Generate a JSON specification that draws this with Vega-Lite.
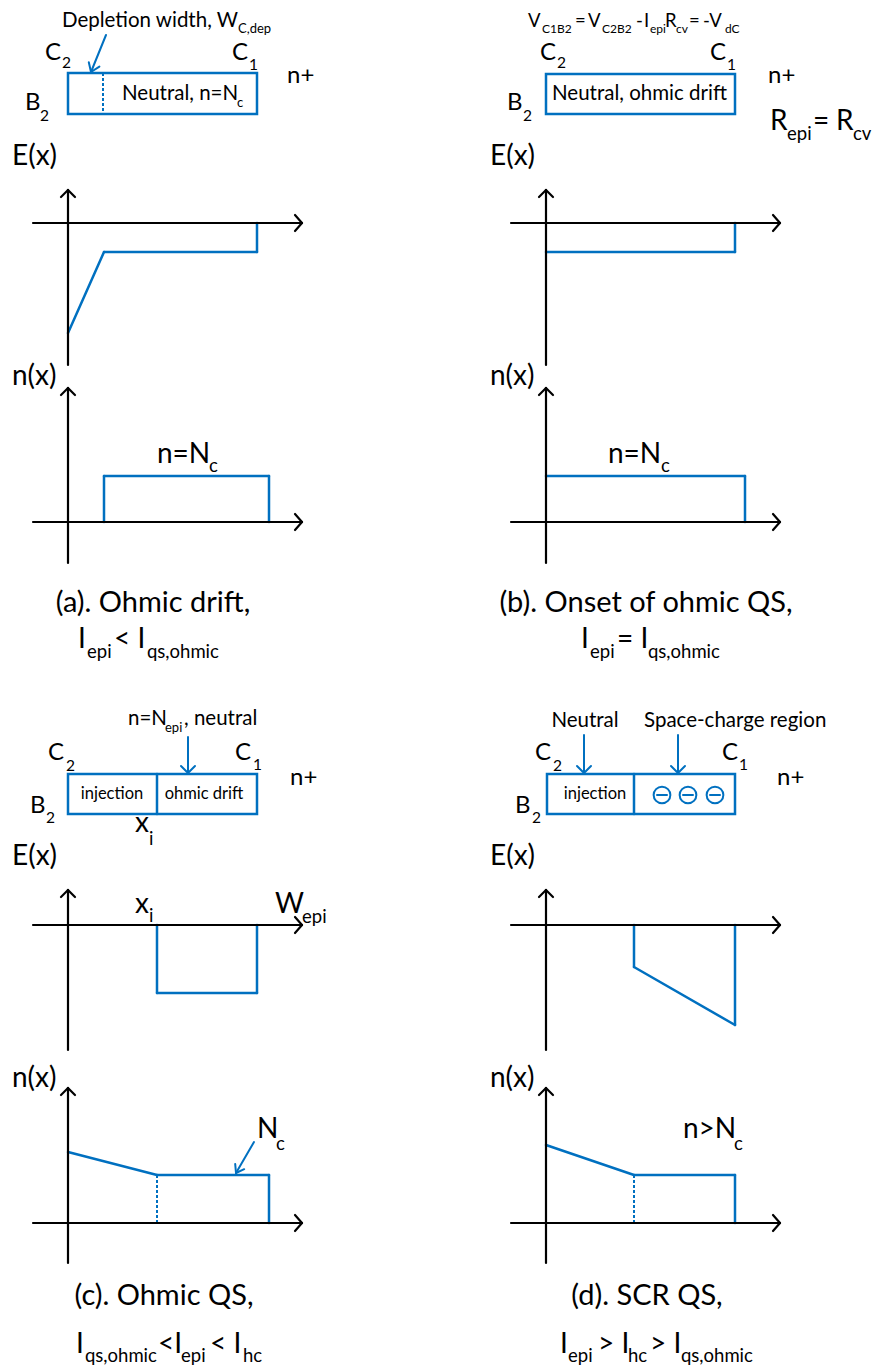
{
"$schema": "https://vega.github.io/schema/vega-lite/v6.json",
"width": 875, "height": 1369, "padding": 0,
"autosize": {"type": "fit", "contains": "padding"},
"background": "white",
"config": {"view": {"stroke": null}, "text": {"font": "Lato", "baseline": "alphabetic", "color": "#000000"}},
"datasets": {
"segs": [
{"x":68,"y":190,"x2":68,"y2":365,"k":"k"},{"x":61,"y":197,"x2":68,"y2":190,"k":"k"},{"x":75,"y":197,"x2":68,"y2":190,"k":"k"},
{"x":33,"y":223,"x2":302,"y2":223,"k":"k"},{"x":295,"y":215,"x2":302,"y2":223,"k":"k"},{"x":295,"y":231,"x2":302,"y2":223,"k":"k"},
{"x":68,"y":388,"x2":68,"y2":563,"k":"k"},{"x":61,"y":395,"x2":68,"y2":388,"k":"k"},{"x":75,"y":395,"x2":68,"y2":388,"k":"k"},
{"x":33,"y":522,"x2":302,"y2":522,"k":"k"},{"x":295,"y":514,"x2":302,"y2":522,"k":"k"},{"x":295,"y":530,"x2":302,"y2":522,"k":"k"},
{"x":546,"y":190,"x2":546,"y2":365,"k":"k"},{"x":539,"y":197,"x2":546,"y2":190,"k":"k"},{"x":553,"y":197,"x2":546,"y2":190,"k":"k"},
{"x":511,"y":223,"x2":780,"y2":223,"k":"k"},{"x":773,"y":215,"x2":780,"y2":223,"k":"k"},{"x":773,"y":231,"x2":780,"y2":223,"k":"k"},
{"x":546,"y":388,"x2":546,"y2":563,"k":"k"},{"x":539,"y":395,"x2":546,"y2":388,"k":"k"},{"x":553,"y":395,"x2":546,"y2":388,"k":"k"},
{"x":511,"y":522,"x2":780,"y2":522,"k":"k"},{"x":773,"y":514,"x2":780,"y2":522,"k":"k"},{"x":773,"y":530,"x2":780,"y2":522,"k":"k"},
{"x":68,"y":890,"x2":68,"y2":1050,"k":"k"},{"x":61,"y":897,"x2":68,"y2":890,"k":"k"},{"x":75,"y":897,"x2":68,"y2":890,"k":"k"},
{"x":33,"y":925,"x2":302,"y2":925,"k":"k"},{"x":295,"y":917,"x2":302,"y2":925,"k":"k"},{"x":295,"y":933,"x2":302,"y2":925,"k":"k"},
{"x":68,"y":1088,"x2":68,"y2":1263,"k":"k"},{"x":61,"y":1095,"x2":68,"y2":1088,"k":"k"},{"x":75,"y":1095,"x2":68,"y2":1088,"k":"k"},
{"x":33,"y":1223,"x2":302,"y2":1223,"k":"k"},{"x":295,"y":1215,"x2":302,"y2":1223,"k":"k"},{"x":295,"y":1231,"x2":302,"y2":1223,"k":"k"},
{"x":546,"y":890,"x2":546,"y2":1050,"k":"k"},{"x":539,"y":897,"x2":546,"y2":890,"k":"k"},{"x":553,"y":897,"x2":546,"y2":890,"k":"k"},
{"x":511,"y":925,"x2":780,"y2":925,"k":"k"},{"x":773,"y":917,"x2":780,"y2":925,"k":"k"},{"x":773,"y":933,"x2":780,"y2":925,"k":"k"},
{"x":546,"y":1088,"x2":546,"y2":1263,"k":"k"},{"x":539,"y":1095,"x2":546,"y2":1088,"k":"k"},{"x":553,"y":1095,"x2":546,"y2":1088,"k":"k"},
{"x":511,"y":1223,"x2":780,"y2":1223,"k":"k"},{"x":773,"y":1215,"x2":780,"y2":1223,"k":"k"},{"x":773,"y":1231,"x2":780,"y2":1223,"k":"k"},
{"x":68,"y":333,"x2":104,"y2":252,"k":"b"},{"x":104,"y":252,"x2":257,"y2":252,"k":"b"},{"x":257,"y":252,"x2":257,"y2":223,"k":"b"},
{"x":104,"y":522,"x2":104,"y2":476,"k":"b"},{"x":104,"y":476,"x2":269,"y2":476,"k":"b"},{"x":269,"y":476,"x2":269,"y2":522,"k":"b"},
{"x":546,"y":252,"x2":735,"y2":252,"k":"b"},{"x":735,"y":252,"x2":735,"y2":223,"k":"b"},
{"x":546,"y":476,"x2":745,"y2":476,"k":"b"},{"x":745,"y":476,"x2":745,"y2":522,"k":"b"},
{"x":157,"y":925,"x2":157,"y2":993,"k":"b"},{"x":157,"y":993,"x2":257,"y2":993,"k":"b"},{"x":257,"y":993,"x2":257,"y2":925,"k":"b"},
{"x":68,"y":1152,"x2":157,"y2":1175,"k":"b"},{"x":157,"y":1175,"x2":269,"y2":1175,"k":"b"},{"x":269,"y":1175,"x2":269,"y2":1223,"k":"b"},
{"x":634,"y":925,"x2":634,"y2":967,"k":"b"},{"x":634,"y":967,"x2":735,"y2":1025,"k":"b"},{"x":735,"y":1025,"x2":735,"y2":925,"k":"b"},
{"x":546,"y":1145,"x2":634,"y2":1175,"k":"b"},{"x":634,"y":1175,"x2":735,"y2":1175,"k":"b"},{"x":735,"y":1175,"x2":735,"y2":1223,"k":"b"},
{"x":157,"y":774,"x2":157,"y2":814,"k":"b"},{"x":634,"y":774,"x2":634,"y2":814,"k":"b"},
{"x":106,"y":35,"x2":91,"y2":72,"k":"a"},{"x":99.4,"y":66.6,"x2":91,"y2":72,"k":"a"},{"x":88.8,"y":62.3,"x2":91,"y2":72,"k":"a"},
{"x":188,"y":737,"x2":188,"y2":773,"k":"a"},{"x":181,"y":766,"x2":188,"y2":773,"k":"a"},{"x":195,"y":766,"x2":188,"y2":773,"k":"a"},
{"x":254,"y":1142,"x2":236,"y2":1173,"k":"a"},{"x":244.2,"y":1169.2,"x2":236,"y2":1173,"k":"a"},{"x":235.2,"y":1164,"x2":236,"y2":1173,"k":"a"},
{"x":584,"y":735,"x2":584,"y2":773,"k":"a"},{"x":577,"y":766,"x2":584,"y2":773,"k":"a"},{"x":591,"y":766,"x2":584,"y2":773,"k":"a"},
{"x":678,"y":735,"x2":678,"y2":773,"k":"a"},{"x":671,"y":766,"x2":678,"y2":773,"k":"a"},{"x":685,"y":766,"x2":678,"y2":773,"k":"a"},
{"x":657,"y":795,"x2":667,"y2":795,"k":"a"},{"x":683,"y":795,"x2":693,"y2":795,"k":"a"},{"x":710,"y":795,"x2":720,"y2":795,"k":"a"},
{"x":103,"y":73,"x2":103,"y2":114,"k":"d"},{"x":157,"y":1175,"x2":157,"y2":1223,"k":"d"},{"x":634,"y":1175,"x2":634,"y2":1223,"k":"d"}
],
"boxes": [
{"x":68,"y":73,"x2":257,"y2":114},{"x":546,"y":74,"x2":735,"y2":114},{"x":68,"y":774,"x2":257,"y2":814},{"x":547,"y":774,"x2":735,"y2":814}
],
"circ": [{"x":662,"y":795},{"x":688,"y":795},{"x":715,"y":795}],
"txt": [
{"t":"Depletion width, W","x":62,"y":27,"c":"M"},{"t":"C,dep","x":238,"y":33,"c":"sM"},
{"t":"C","x":45,"y":60,"c":"C"},{"t":"2","x":62,"y":68,"c":"sC"},
{"t":"C","x":232,"y":60,"c":"C"},{"t":"1","x":249,"y":70,"c":"sC"},
{"t":"n+","x":287,"y":83,"c":"C"},
{"t":"Neutral, n=N","x":122,"y":100,"c":"M"},{"t":"c","x":237,"y":107,"c":"sM"},
{"t":"B","x":25,"y":110,"c":"C"},{"t":"2","x":40,"y":121,"c":"sC"},
{"t":"E(x)","x":12,"y":165,"c":"L"},
{"t":"n(x)","x":12,"y":385,"c":"L"},
{"t":"n=N","x":157,"y":463,"c":"L"},{"t":"c","x":209,"y":472,"c":"sL"},
{"t":"(a). Ohmic drift,","x":153,"y":612,"c":"Lc"},
{"t":"I","x":78,"y":648,"c":"L"},{"t":"epi","x":87,"y":658,"c":"sL"},{"t":"< I","x":114,"y":648,"c":"L"},{"t":"qs,ohmic","x":147,"y":658,"c":"sL"},
{"t":"V","x":528,"y":27,"c":"E"},{"t":"C1B2","x":542,"y":33,"c":"sE"},{"t":"=","x":575,"y":27,"c":"E"},{"t":"V","x":588,"y":27,"c":"E"},{"t":"C2B2","x":602,"y":33,"c":"sE"},{"t":"-","x":636,"y":27,"c":"E"},{"t":"I","x":644,"y":27,"c":"E"},{"t":"epi","x":650,"y":33,"c":"sE"},{"t":"R","x":665,"y":27,"c":"E"},{"t":"cv","x":676,"y":33,"c":"sE"},{"t":"=","x":689,"y":27,"c":"E"},{"t":"-V","x":703,"y":27,"c":"E"},{"t":"dC","x":725,"y":33,"c":"sE"},
{"t":"C","x":540,"y":60,"c":"C"},{"t":"2","x":557,"y":68,"c":"sC"},
{"t":"C","x":710,"y":60,"c":"C"},{"t":"1","x":727,"y":70,"c":"sC"},
{"t":"n+","x":768,"y":83,"c":"C"},
{"t":"Neutral, ohmic drift","x":552,"y":100,"c":"M"},
{"t":"B","x":507,"y":110,"c":"C"},{"t":"2","x":523,"y":121,"c":"sC"},
{"t":"R","x":770,"y":130,"c":"L"},{"t":"epi","x":787,"y":140,"c":"sL"},{"t":"=","x":813,"y":130,"c":"L"},{"t":"R","x":836,"y":130,"c":"L"},{"t":"cv","x":853,"y":140,"c":"sL"},
{"t":"E(x)","x":490,"y":165,"c":"L"},
{"t":"n(x)","x":490,"y":385,"c":"L"},
{"t":"n=N","x":608,"y":463,"c":"L"},{"t":"c","x":661,"y":472,"c":"sL"},
{"t":"(b). Onset of ohmic QS,","x":646,"y":612,"c":"Lc"},
{"t":"I","x":581,"y":648,"c":"L"},{"t":"epi","x":590,"y":658,"c":"sL"},{"t":"= I","x":617,"y":648,"c":"L"},{"t":"qs,ohmic","x":648,"y":658,"c":"sL"},
{"t":"n=N","x":128,"y":725,"c":"M"},{"t":"epi","x":165,"y":732,"c":"sM"},{"t":", neutral","x":184,"y":725,"c":"M"},
{"t":"C","x":48,"y":760,"c":"C"},{"t":"2","x":66,"y":771,"c":"sC"},
{"t":"C","x":235,"y":760,"c":"C"},{"t":"1","x":253,"y":770,"c":"sC"},
{"t":"n+","x":290,"y":785,"c":"C"},
{"t":"injection","x":112,"y":799,"c":"S"},{"t":"ohmic drift","x":204,"y":799,"c":"S"},
{"t":"B","x":30,"y":813,"c":"C"},{"t":"2","x":46,"y":823,"c":"sC"},
{"t":"x","x":135,"y":832,"c":"L"},{"t":"i","x":149,"y":845,"c":"sL"},
{"t":"E(x)","x":12,"y":865,"c":"L"},
{"t":"x","x":135,"y":913,"c":"L"},{"t":"i","x":149,"y":922,"c":"sL"},
{"t":"W","x":275,"y":913,"c":"L"},{"t":"epi","x":302,"y":923,"c":"sL"},
{"t":"n(x)","x":12,"y":1087,"c":"L"},
{"t":"N","x":257,"y":1138,"c":"L"},{"t":"c","x":276,"y":1150,"c":"sL"},
{"t":"(c). Ohmic QS,","x":164,"y":1305,"c":"Lc"},
{"t":"I","x":76,"y":1353,"c":"L"},{"t":"qs,ohmic","x":85,"y":1362,"c":"sL"},{"t":"<I","x":158,"y":1353,"c":"L"},{"t":"epi","x":181,"y":1362,"c":"sL"},{"t":"< I","x":210,"y":1353,"c":"L"},{"t":"hc","x":243,"y":1362,"c":"sL"},
{"t":"Neutral","x":585,"y":727,"c":"Mc"},{"t":"Space-charge region","x":644,"y":727,"c":"M"},
{"t":"C","x":535,"y":760,"c":"C"},{"t":"2","x":553,"y":771,"c":"sC"},
{"t":"C","x":722,"y":760,"c":"C"},{"t":"1","x":739,"y":770,"c":"sC"},
{"t":"n+","x":777,"y":785,"c":"C"},
{"t":"injection","x":595,"y":799,"c":"S"},
{"t":"B","x":515,"y":813,"c":"C"},{"t":"2","x":532,"y":823,"c":"sC"},
{"t":"E(x)","x":490,"y":865,"c":"L"},
{"t":"n(x)","x":490,"y":1087,"c":"L"},
{"t":"n>N","x":683,"y":1138,"c":"L"},{"t":"c","x":734,"y":1150,"c":"sL"},
{"t":"(d). SCR QS,","x":647,"y":1305,"c":"Lc"},
{"t":"I","x":560,"y":1353,"c":"L"},{"t":"epi","x":568,"y":1362,"c":"sL"},{"t":"> I","x":598,"y":1353,"c":"L"},{"t":"hc","x":628,"y":1362,"c":"sL"},{"t":"> I","x":650,"y":1353,"c":"L"},{"t":"qs,ohmic","x":681,"y":1362,"c":"sL"}
]
},
"encoding": {
"x": {"field": "x", "type": "quantitative", "scale": {"domain": [0, 875], "nice": false, "zero": false}, "axis": null},
"y": {"field": "y", "type": "quantitative", "scale": {"domain": [0, 1369], "nice": false, "zero": false, "reverse": true}, "axis": null}
},
"layer": [
{"data": {"name": "segs"}, "transform": [{"filter": "datum.k === 'b'"}], "mark": {"type": "rule", "color": "#0070C0", "strokeWidth": 2.5, "strokeCap": "round"}, "encoding": {"x2": {"field": "x2"}, "y2": {"field": "y2"}}},
{"data": {"name": "segs"}, "transform": [{"filter": "datum.k === 'a'"}], "mark": {"type": "rule", "color": "#0070C0", "strokeWidth": 2, "strokeCap": "round"}, "encoding": {"x2": {"field": "x2"}, "y2": {"field": "y2"}}},
{"data": {"name": "segs"}, "transform": [{"filter": "datum.k === 'd'"}], "mark": {"type": "rule", "color": "#0070C0", "strokeWidth": 2, "strokeDash": [3, 2]}, "encoding": {"x2": {"field": "x2"}, "y2": {"field": "y2"}}},
{"data": {"name": "boxes"}, "mark": {"type": "rect", "fill": "white", "fillOpacity": 0, "stroke": "#0070C0", "strokeWidth": 2.5}, "encoding": {"x2": {"field": "x2"}, "y2": {"field": "y2"}}},
{"data": {"name": "circ"}, "mark": {"type": "point", "shape": "circle", "filled": false, "size": 280, "color": "#0070C0", "strokeWidth": 2, "opacity": 1}},
{"data": {"name": "segs"}, "transform": [{"filter": "datum.k === 'k'"}], "mark": {"type": "rule", "color": "#000000", "strokeWidth": 2.2, "strokeCap": "round"}, "encoding": {"x2": {"field": "x2"}, "y2": {"field": "y2"}}},
{"data": {"name": "txt"}, "transform": [{"filter": "datum.c === 'L'"}], "mark": {"type": "text", "fontSize": 28, "align": "left"}, "encoding": {"text": {"field": "t", "type": "nominal"}}},
{"data": {"name": "txt"}, "transform": [{"filter": "datum.c === 'Lc'"}], "mark": {"type": "text", "fontSize": 29, "align": "center"}, "encoding": {"text": {"field": "t", "type": "nominal"}}},
{"data": {"name": "txt"}, "transform": [{"filter": "datum.c === 'C'"}], "mark": {"type": "text", "fontSize": 24, "align": "left"}, "encoding": {"text": {"field": "t", "type": "nominal"}}},
{"data": {"name": "txt"}, "transform": [{"filter": "datum.c === 'M'"}], "mark": {"type": "text", "fontSize": 20.5, "align": "left"}, "encoding": {"text": {"field": "t", "type": "nominal"}}},
{"data": {"name": "txt"}, "transform": [{"filter": "datum.c === 'Mc'"}], "mark": {"type": "text", "fontSize": 20.5, "align": "center"}, "encoding": {"text": {"field": "t", "type": "nominal"}}},
{"data": {"name": "txt"}, "transform": [{"filter": "datum.c === 'S'"}], "mark": {"type": "text", "fontSize": 16.5, "align": "center"}, "encoding": {"text": {"field": "t", "type": "nominal"}}},
{"data": {"name": "txt"}, "transform": [{"filter": "datum.c === 'E'"}], "mark": {"type": "text", "fontSize": 18.5, "align": "left"}, "encoding": {"text": {"field": "t", "type": "nominal"}}},
{"data": {"name": "txt"}, "transform": [{"filter": "datum.c === 'sL'"}], "mark": {"type": "text", "fontSize": 18.5, "align": "left"}, "encoding": {"text": {"field": "t", "type": "nominal"}}},
{"data": {"name": "txt"}, "transform": [{"filter": "datum.c === 'sC'"}], "mark": {"type": "text", "fontSize": 15.5, "align": "left"}, "encoding": {"text": {"field": "t", "type": "nominal"}}},
{"data": {"name": "txt"}, "transform": [{"filter": "datum.c === 'sM'"}], "mark": {"type": "text", "fontSize": 13, "align": "left"}, "encoding": {"text": {"field": "t", "type": "nominal"}}},
{"data": {"name": "txt"}, "transform": [{"filter": "datum.c === 'sE'"}], "mark": {"type": "text", "fontSize": 12, "align": "left"}, "encoding": {"text": {"field": "t", "type": "nominal"}}}
]
}
